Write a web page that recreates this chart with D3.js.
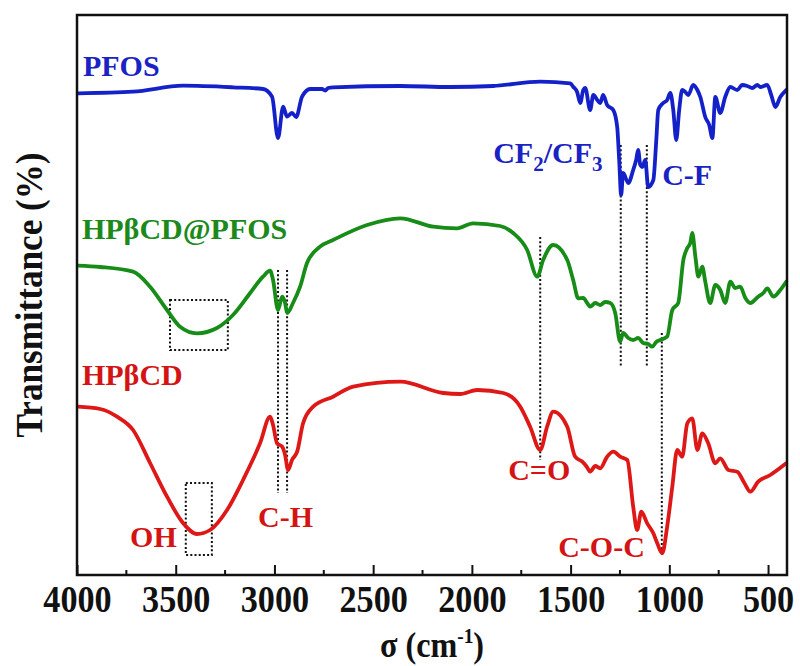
<!DOCTYPE html>
<html>
<head>
<meta charset="utf-8">
<script src="https://cdn.jsdelivr.net/npm/d3@7"></script>
<style>
  html, body { margin: 0; padding: 0; background: #fff; }
  svg { display: block; }
  text { font-family: "Liberation Serif", "Times New Roman", serif; font-weight: bold; }
</style>
</head>
<body>
<svg id="chart" width="800" height="666"></svg>
<script>
// ---------- DATA ----------
const xTicks = [4000, 3500, 3000, 2500, 2000, 1500, 1000, 500];
const xMinorTicks = [3750, 3250, 2750, 2250, 1750, 1250, 750];

// wavenumber (cm-1) for each series, and transmittance (arbitrary offset units)
const pfosWave = [3995,3716,3463,3210,3058,3012,2982,2956,2936,2911,2890,2860,2819,2759,2743,2728,2703,2363,2110,1892,1654,1502,1487,1467,1451,1436,1426,1401,1385,1365,1350,1335,1315,1284,1264,1254,1244,1234,1208,1183,1168,1158,1147,1137,1122,1107,1081,1066,1056,1031,1011,995,980,965,950,935,919,904,879,858,843,818,798,782,767,742,717,691,656,631,605,580,554,539,504,484,463,438,408];
const pfosT = [48.17,48.33,48.93,48.77,48.6,47.83,43.7,46.83,45.83,46.2,45.8,47.83,48.6,48.6,48.45,48.7,48.77,48.9,48.8,48.9,49.33,49.17,48.83,48.3,47.2,48.5,48.7,46.5,48.0,47.5,47.2,48.0,47.0,46.5,44.8,41.5,38.0,40.2,39.2,40.5,41.5,42.5,41.0,40.8,41.5,38.8,39.5,43.5,46.5,47.2,47.5,48.2,46.5,43.5,46.5,48.5,48.3,48.0,49.0,48.5,47.8,45.8,45.0,43.7,47.8,46.2,47.8,48.8,48.5,49.0,48.9,48.7,49.0,48.8,49.0,48.0,46.8,47.8,48.5];

const compWave = [3995,3883,3716,3630,3544,3478,3392,3291,3210,3123,3058,3022,3007,2982,2961,2946,2936,2906,2870,2835,2769,2703,2531,2363,2196,2075,1994,1857,1791,1720,1669,1639,1588,1517,1487,1461,1436,1416,1401,1375,1350,1325,1299,1274,1249,1234,1208,1183,1158,1132,1107,1087,1066,1046,1011,985,955,929,909,894,884,868,853,833,818,793,767,742,717,691,666,641,615,590,550,524,504,473,438,408];
const compT = [30.93,30.8,30.33,28.83,26.5,24.83,24.17,24.7,26.0,28.2,29.83,30.43,29.5,26.5,27.83,27.2,26.2,27.2,28.83,31.2,32.83,33.5,35.0,35.67,34.83,34.67,35.17,34.9,34.2,32.5,29.83,31.5,33.0,31.5,29.5,27.67,27.7,27.2,26.83,27.2,27.0,27.3,27.2,26.2,23.33,24.2,23.7,23.5,23.7,23.2,23.1,22.83,23.3,23.5,23.83,26.5,27.2,31.5,32.7,33.2,34.2,31.83,29.83,30.83,29.33,27.2,29.0,28.5,27.2,29.33,28.7,28.83,27.7,27.2,27.83,28.2,28.67,27.83,28.5,29.33];

const cdWave = [3995,3883,3797,3716,3630,3544,3463,3392,3326,3240,3159,3073,3022,3007,2987,2961,2946,2931,2911,2885,2855,2804,2703,2601,2363,2145,2059,1973,1841,1755,1705,1654,1619,1588,1517,1477,1441,1421,1401,1375,1350,1315,1284,1249,1213,1183,1163,1142,1112,1081,1061,1036,1011,985,960,935,909,884,858,833,803,767,742,701,656,620,590,550,489,408];
const cdT = [16.83,16.6,15.83,14.5,11.2,7.83,5.2,4.1,4.5,6.5,9.5,13.17,15.83,15.0,13.17,12.83,12.0,10.5,11.5,12.33,15.17,16.83,17.83,18.83,19.33,18.2,18.1,18.5,18.2,16.83,14.83,12.5,14.83,16.33,14.83,11.83,11.33,10.9,10.33,10.9,10.67,11.83,12.33,11.83,11.5,6.83,4.5,6.33,5.17,4.17,3.17,2.17,4.83,8.83,12.5,11.83,15.17,15.67,12.5,14.17,13.17,11.17,11.67,10.5,10.33,9.2,8.33,9.33,10.0,11.17];

const seriesNames = ["PFOS", "HPβCD@PFOS", "HPβCD"];

// dotted guide lines: wavenumber, from value, to value
const guideWave = [2982, 2936, 1654, 1246, 1114, 1038];
const guideTop = [30.5, 30.5, 33.8, 43.0, 43.0, 24.2];
const guideBottom = [8.2, 8.2, 11.5, 20.8, 20.8, 2.2];

// dotted boxes: [w1, w2, v1, v2]
const boxWaveA = [3529, 3449];
const boxWaveB = [3236, 3317];
const boxTopV = [27.5, 9.2];
const boxBottomV = [22.5, 2.0];

// ---------- LAYOUT ----------
const svg = d3.select("#chart");
const M = { left: 77, right: 787, top: 15, bottom: 575 };
const x = d3.scaleLinear().domain([4000, 404]).range([M.left, M.right]);
const y = d3.scaleLinear().domain([0, 56]).range([M.bottom, M.top]);

const colors = { blue: "#1421c9", green: "#178c17", red: "#de1717" };
const textColors = { blue: "#1a22c4", green: "#1b8a1b", red: "#d41414" };

// guides (behind curves)
const guides = guideWave.map((w, i) => ({ w, t: guideTop[i], b: guideBottom[i] }));
svg.append("g").selectAll("line").data(guides).join("line")
  .attr("x1", d => x(d.w)).attr("x2", d => x(d.w))
  .attr("y1", d => y(d.t)).attr("y2", d => y(d.b))
  .attr("stroke", "#111").attr("stroke-width", 2).attr("stroke-dasharray", "2,2.2");

const boxes = boxWaveA.map((w, i) => ({ w1: w, w2: boxWaveB[i], t: boxTopV[i], b: boxBottomV[i] }));
svg.append("g").selectAll("rect").data(boxes).join("rect")
  .attr("x", d => x(d.w1)).attr("y", d => y(d.t))
  .attr("width", d => x(d.w2) - x(d.w1)).attr("height", d => y(d.b) - y(d.t))
  .attr("fill", "none").attr("stroke", "#111").attr("stroke-width", 2).attr("stroke-dasharray", "2,2.2");

// curves
const line = d3.line().x(d => x(d[0])).y(d => y(d[1])).curve(d3.curveMonotoneX);
const series = [
  { pts: d3.zip(pfosWave, pfosT), c: colors.blue },
  { pts: d3.zip(compWave, compT), c: colors.green },
  { pts: d3.zip(cdWave, cdT), c: colors.red }
];
svg.append("g").selectAll("path").data(series).join("path")
  .attr("d", d => line(d.pts))
  .attr("fill", "none").attr("stroke", d => d.c)
  .attr("stroke-width", 3.8).attr("stroke-linejoin", "round").attr("stroke-linecap", "round");

// frame
svg.append("rect").attr("x", M.left).attr("y", M.top)
  .attr("width", M.right - M.left).attr("height", M.bottom - M.top)
  .attr("fill", "none").attr("stroke", "#111").attr("stroke-width", 2.5);

// x axis
const ax = svg.append("g").attr("transform", `translate(0,${M.bottom})`)
  .call(d3.axisBottom(x).tickValues(xTicks).tickFormat(d3.format("d")).tickSizeInner(-10).tickSizeOuter(0).tickPadding(10));
ax.select(".domain").remove();
ax.selectAll(".tick line").attr("stroke", "#111").attr("stroke-width", 2);
ax.selectAll(".tick text").attr("font-size", 38).attr("fill", "#111")
  .attr("font-family", "Liberation Serif, serif").attr("font-weight", "bold")
  .attr("transform", "scale(0.9,1)");

svg.append("g").selectAll("line").data(xMinorTicks).join("line")
  .attr("x1", d => x(d)).attr("x2", d => x(d))
  .attr("y1", M.bottom).attr("y2", M.bottom - 5)
  .attr("stroke", "#111").attr("stroke-width", 2);

// axis titles
const xt = svg.append("text").attr("transform", `translate(${(M.left + M.right) / 2},657) scale(0.92,1)`)
  .attr("text-anchor", "middle").attr("font-size", 35).attr("fill", "#111");
xt.append("tspan").text("σ (cm");
xt.append("tspan").attr("dy", -14).attr("font-size", 21).text("-1");
xt.append("tspan").attr("dy", 14).text(")");

svg.append("text").attr("transform", `translate(42,${(M.top + M.bottom) / 2}) rotate(-90) scale(0.9,1)`)
  .attr("text-anchor", "middle").attr("font-size", 39).attr("fill", "#111")
  .text("Transmittance (%)");

// labels
const labels = [
  { t: "PFOS", w: 3970, v: 49.9, c: textColors.blue },
  { t: "HPβCD@PFOS", w: 3975, v: 33.6, c: textColors.green },
  { t: "HPβCD", w: 3975, v: 19.0, c: textColors.red },
  { t: "C-F", w: 1036, v: 39.0, c: textColors.blue },
  { t: "C=O", w: 1816, v: 9.5, c: textColors.red },
  { t: "C-O-C", w: 1563, v: 1.8, c: textColors.red },
  { t: "C-H", w: 3083, v: 4.8, c: textColors.red },
  { t: "OH", w: 3731, v: 2.8, c: textColors.red }
];
svg.append("g").selectAll("text").data(labels).join("text")
  .attr("x", d => x(d.w)).attr("y", d => y(d.v))
  .attr("font-size", 30).attr("fill", d => d.c).text(d => d.t);

const cf = svg.append("text").attr("x", x(1892)).attr("y", y(41.17))
  .attr("font-size", 30).attr("fill", textColors.blue);
cf.append("tspan").text("CF");
cf.append("tspan").attr("dy", 8).attr("font-size", 21).text("2");
cf.append("tspan").attr("dy", -8).text("/CF");
cf.append("tspan").attr("dy", 8).attr("font-size", 21).text("3");
</script>
</body>
</html>
